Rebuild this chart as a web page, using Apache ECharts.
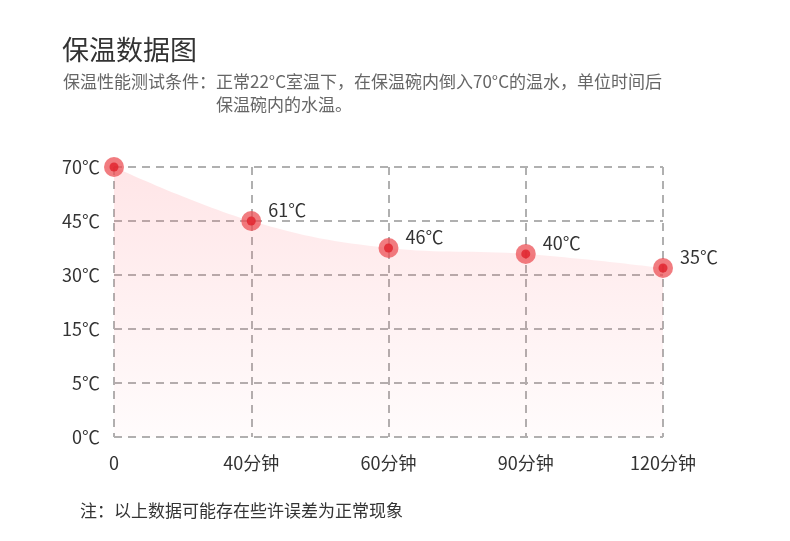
<!DOCTYPE html>
<html>
<head>
<meta charset="utf-8">
<title>保温数据图</title>
<script src="https://cdn.jsdelivr.net/npm/echarts@6/dist/echarts.min.js"></script>
<style>
    html, body { margin: 0; padding: 0; background: #fff; }
    #chart { width: 790px; height: 541px; }
</style>
</head>
<body>
<div id="chart"></div>
<script>
// x categories (time)
var timeLabels = ['0', '40分钟', '60分钟', '90分钟', '120分钟'];
// y tick labels, evenly spaced on the chart
var tempTicks = ['0℃', '5℃', '15℃', '30℃', '45℃', '70℃'];
// measured water temperature at each time
var temps = [70, 61, 46, 40, 35];
// where each point sits on the tick scale (0 = 0℃ line, 5 = 70℃ line)
var levels = [5, 4, 3.5, 3.39, 3.13];

var font = '"Noto Sans CJK SC", "Noto Sans", sans-serif';

var points = levels.map(function (v, i) {
    return {
        value: v,
        label: { show: i > 0, formatter: temps[i] + '℃' }
    };
});

var myChart = echarts.init(document.getElementById('chart'));

var option = {
    backgroundColor: '#fff',
    textStyle: { fontFamily: font },
    title: [
        {
            text: '保温数据图',
            left: 57,
            top: 31,
            textStyle: { fontSize: 27, fontWeight: 'normal', color: '#333', fontFamily: font }
        },
        {
            text: '保温性能测试条件：正常22°C室温下，在保温碗内倒入70°C的温水，单位时间后',
            left: 58,
            top: 68,
            textStyle: { fontSize: 17, fontWeight: 'normal', color: '#666', fontFamily: font }
        },
        {
            text: '保温碗内的水温。',
            left: 211,
            top: 91,
            textStyle: { fontSize: 17, fontWeight: 'normal', color: '#666', fontFamily: font }
        },
        {
            text: '注：以上数据可能存在些许误差为正常现象',
            left: 75,
            top: 497,
            textStyle: { fontSize: 17, fontWeight: 'normal', color: '#333', fontFamily: font }
        }
    ],
    grid: {
        left: 114,
        right: 127,
        top: 167,
        bottom: 104
    },
    xAxis: {
        type: 'category',
        boundaryGap: false,
        data: timeLabels,
        axisLine: { show: false },
        axisTick: { show: false },
        axisLabel: {
            margin: 17,
            fontSize: 18,
            color: '#333',
            fontFamily: font
        },
        splitLine: {
            show: true,
            lineStyle: { color: '#b0b0b0', width: 2, type: [8, 6] }
        }
    },
    yAxis: {
        type: 'value',
        min: 0,
        max: 5,
        interval: 1,
        axisLine: { show: false },
        axisTick: { show: false },
        axisLabel: {
            margin: 14,
            fontSize: 18,
            color: '#333',
            fontFamily: font,
            formatter: function (v) {
                return tempTicks[Math.round(v)];
            }
        },
        splitLine: {
            lineStyle: { color: '#b0b0b0', width: 2, type: [8, 6] }
        }
    },
    series: [
        {
            name: '水温',
            type: 'line',
            data: points,
            smooth: 0.4,
            symbol: 'circle',
            symbolSize: 20,
            lineStyle: { width: 0 },
            itemStyle: { color: 'rgba(236, 80, 86, 0.75)' },
            label: {
                position: 'right',
                distance: 7,
                offset: [0, -11],
                fontSize: 18,
                color: '#333',
                fontFamily: font
            },
            areaStyle: {
                color: new echarts.graphic.LinearGradient(0, 0, 0, 1, [
                    { offset: 0, color: 'rgba(255, 100, 112, 0.24)' },
                    { offset: 1, color: 'rgba(255, 100, 112, 0.03)' }
                ])
            },
            z: 2
        },
        {
            name: '点',
            type: 'scatter',
            data: levels,
            symbolSize: 9,
            itemStyle: { color: '#e1202a' },
            silent: true,
            z: 3
        }
    ]
};

myChart.setOption(option);
window.addEventListener('resize', function () {
    myChart.resize();
});
</script>
</body>
</html>
